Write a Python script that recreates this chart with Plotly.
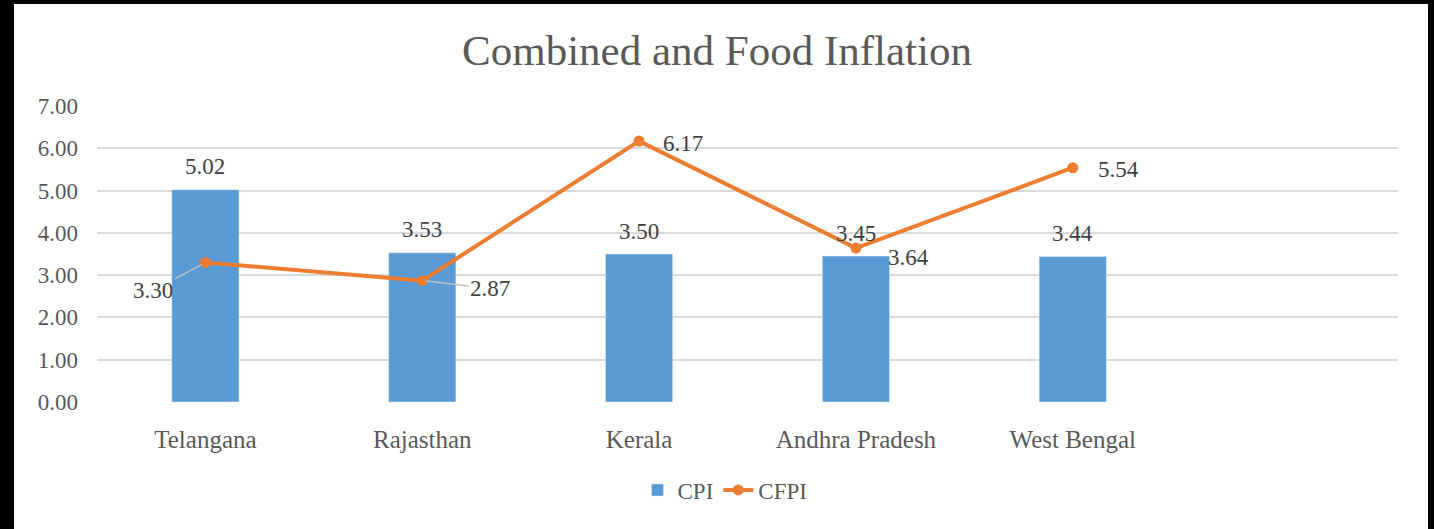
import plotly.graph_objects as go

categories = ["Telangana", "Rajasthan", "Kerala", "Andhra Pradesh", "West Bengal"]
cpi = [5.02, 3.53, 3.50, 3.45, 3.44]
cfpi = [3.30, 2.87, 6.17, 3.64, 5.54]
y_ticks = [0, 1, 2, 3, 4, 5, 6, 7]

FONT = "Liberation Serif"
TXT = "#404040"
GREY = "#595959"
xs = list(range(len(categories)))

fig = go.Figure()
fig.add_trace(go.Bar(x=xs, y=cpi, name="CPI", marker_color="#5B9BD5", width=0.31))
fig.add_trace(go.Scatter(x=xs, y=cfpi, name="CFPI", mode="lines+markers",
                         line=dict(color="#ED7D31", width=4),
                         marker=dict(size=11, color="#ED7D31")))

# CPI labels above bars
for x, v in zip(xs, cpi):
    fig.add_annotation(x=x, y=v, text=f"{v:.2f}", showarrow=False, yshift=23,
                       font=dict(family=FONT, size=23, color=TXT))

# CFPI labels (offsets in pixels)
offsets = [(-52, 28, True), (68, 8, True), (44, 2, False), (53, 9, False), (46, 2, False)]
for x, v, (ax, ay, leader) in zip(xs, cfpi, offsets):
    if leader:
        fig.add_annotation(x=x, y=v, text=f"{v:.2f}", showarrow=True, arrowhead=0,
                           arrowwidth=1.5, arrowcolor="#BFBFBF", ax=ax, ay=ay, standoff=4,
                           font=dict(family=FONT, size=23, color=TXT))
    else:
        fig.add_annotation(x=x, y=v, text=f"{v:.2f}", showarrow=False,
                           xshift=ax, yshift=-ay,
                           font=dict(family=FONT, size=23, color=TXT))

# white chart area on black background
fig.add_shape(type="rect", xref="paper", yref="paper",
              x0=(14 - 97) / 1301, x1=(1428 - 97) / 1301,
              y0=(402 - 530) / 296, y1=(402 - 4) / 296,
              fillcolor="white", line=dict(width=0), layer="below")

fig.update_layout(
    width=1434, height=529,
    margin=dict(l=97, r=36, t=106, b=127),
    paper_bgcolor="black", plot_bgcolor="white",
    title=dict(text="Combined and Food Inflation", x=0.5, xanchor="center",
               y=1 - 50 / 529, yanchor="middle",
               font=dict(family=FONT, size=43, color=GREY)),
    showlegend=True,
    legend=dict(orientation="h", x=(725 - 97) / 1301, xanchor="center",
                y=(402 - 490) / 296, yanchor="middle",
                font=dict(family=FONT, size=23, color=GREY),
                bgcolor="rgba(0,0,0,0)"),
    xaxis=dict(range=[-0.5, 5.5], tickvals=xs, ticktext=categories,
               showgrid=False, zeroline=False, showline=False, ticks="",
               ticklabelstandoff=20,
               tickfont=dict(family=FONT, size=25, color=GREY)),
    yaxis=dict(range=[0, 7], tickvals=y_ticks,
               ticktext=[f"{t:.2f}" for t in y_ticks],
               showgrid=True, gridcolor="#D9D9D9", gridwidth=1.5,
               zeroline=False, showline=False, ticks="",
               ticklabelstandoff=18,
               tickfont=dict(family=FONT, size=23, color=GREY)),
    bargap=0.69,
)

fig.write_html("out.html", config={"displayModeBar": False},
               post_script="document.body.style.margin='0';")
